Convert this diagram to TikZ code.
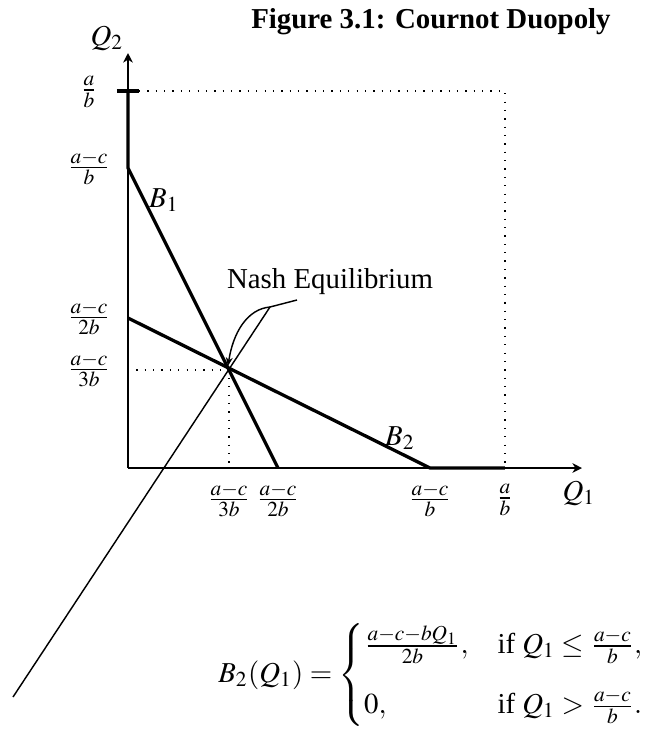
\documentclass[tikz,border=0pt]{standalone}
\usepackage{amsmath}
\usepackage{mathptmx}
\usepackage[no-math]{fontspec}
\setmainfont{Liberation Serif}
\usetikzlibrary{arrows.meta}

\begin{document}
\begin{tikzpicture}[x=0.3466pt, y=-0.3466pt,
                    every node/.style={inner sep=0pt},
                    axis/.style={line width=0.8pt, -{Stealth[length=3.3pt, width=3.3pt, inset=1pt]}},
                    resp/.style={line width=1.15pt},
                    guide/.style={line width=0.45pt, dash pattern=on 0.45pt off 2.45pt},
                    pointer/.style={line width=0.5pt}
                    ]
                    \useasboundingbox (0,0) rectangle (645,730);

                    \coordinate (O) at (128,468);
                    \coordinate (xend) at (582,468);
                    \coordinate (yend) at (128,53);
                    \coordinate (ab) at (128,91);
                    \coordinate (tickL) at (117,91);
                    \coordinate (tickR) at (139,91);
                    \coordinate (corner) at (505,91);
                    \coordinate (abx) at (505,468);
                    \coordinate (B1top) at (128,168);
                    \coordinate (B1bot) at (278,468);
                    \coordinate (B2top) at (128,318);
                    \coordinate (B2bot) at (430,468);
                    \coordinate (N) at (229,370);
                    \coordinate (Ny) at (128,370);
                    \coordinate (Nx) at (229,468);
                    \coordinate (knee) at (270,307);
                    \coordinate (hook) at (297,300);
                    \coordinate (tail) at (13,697);

                    \node[anchor=base] (title) at (431,28) {\bfseries Figure 3.1: Cournot Duopoly};
                    \node (q1) at (579,493) {$Q_1$};
                    \node (q2) at (107,38) {$Q_2$};
                    \node (b1) at (164,200) {$B_1$};
                    \node (b2) at (400,438) {$B_2$};
                    \node[anchor=base] (nash) at (330,288) {Nash Equilibrium};

                    % axis labels
                    \foreach \n/\y/\t in {ya/92/{\frac{a}{b}}, yb/168/{\frac{a-c}{b}}, yc/318/{\frac{a-c}{2b}}, yd/370/{\frac{a-c}{3b}}}{
                        \node (\n) at (89,\y) {$\t$};
                    }
                    \foreach \n/\x/\t in {xa/229/{\frac{a-c}{3b}}, xb/278/{\frac{a-c}{2b}}, xc/430/{\frac{a-c}{b}}, xd/505/{\frac{a}{b}}}{
                        \node (\n) at (\x,500) {$\t$};
                    }

                    \draw[axis] (O) -- (xend);
                    \draw[axis] (O) -- (yend);
                    \draw[resp] (tickL) -- (tickR);
                    \draw[resp] (ab) -- (B1top) -- (B1bot);
                    \draw[resp] (B2top) -- (B2bot) -- (abx);
                    \draw[guide] (tickR) -- (corner) -- (abx);
                    \draw[guide] (Ny) -- (N) -- (Nx);
                    \draw[pointer] (hook) -- (knee) -- (tail);
                    \draw[pointer, -{Stealth[length=3pt, width=2.4pt]}] (knee) .. controls (247,309) and (233,333) .. (228,366);

                    \node (formula) at (432,675) {$B_2(Q_1)=\begin{cases}
                        \frac{a-c-bQ_1}{2b}, & \text{if } Q_1\le\frac{a-c}{b},\\[1.4ex]
                        0, & \text{if } Q_1>\frac{a-c}{b}.
                    \end{cases}$};
                \end{tikzpicture}
\end{document}
